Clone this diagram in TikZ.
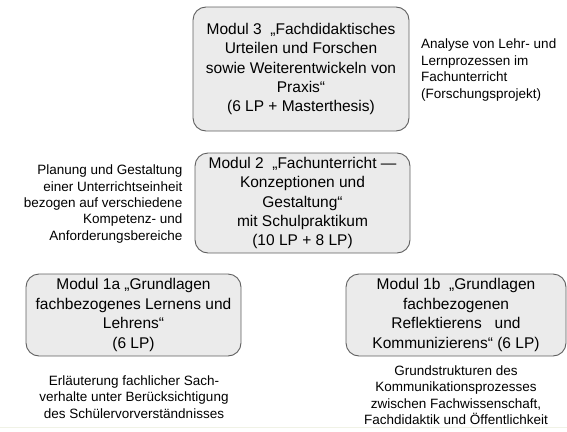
\documentclass[tikz,border=0pt]{standalone}
\usepackage{fontspec}
\setmainfont{Liberation Sans}
\definecolor{boxfill}{RGB}{235,235,235}
\definecolor{boxline}{RGB}{95,95,95}
\definecolor{faint}{RGB}{240,242,230}
\begin{document}
\begin{tikzpicture}[x=1pt,y=-1pt,
  modbox/.style={draw=boxline, fill=boxfill, line width=0.9pt, rounded corners=13pt,
    align=center, inner sep=0pt, font=\fontsize{15.5}{19.4}\selectfont},
  sidetext/.style={inner sep=0pt, font=\fontsize{13.5}{16.4}\selectfont}]
\useasboundingbox (0,0) rectangle (567,431);
\draw[faint, line width=1pt] (0,427) -- (567,427);
% boxes
\node[modbox, minimum width=216pt, minimum height=124pt] (m3) at (301,69)
  {Modul 3\ \ „Fachdidaktisches\\Urteilen und Forschen\\sowie Weiterentwickeln von\\Praxis“\\ (6 LP + Masterthesis)};
\node[modbox, minimum width=215pt, minimum height=100pt] (m2) at (302.5,203)
  {Modul 2\ \ „Fachunterricht —\\Konzeptionen und\\Gestaltung“\\mit Schulpraktikum\\(10 LP + 8 LP)};
\node[modbox, minimum width=215pt, minimum height=82pt] (m1a) at (133.5,315)
  {Modul 1a „Grundlagen\\fachbezogenes Lernens und\\Lehrens“\\(6 LP)};
\node[modbox, minimum width=220pt, minimum height=82pt] (m1b) at (456,315)
  {Modul 1b\ \ „Grundlagen\\fachbezogenen\\Reflektierens\ \ \ und\\Kommunizierens“ (6 LP)};
% side texts
\node[sidetext, align=left, anchor=west] (t3) at (421,70)
  {Analyse von Lehr- und\\Lernprozessen im\\Fachunterricht\\(Forschungsprojekt)};
\node[sidetext, align=right, anchor=east] (t2) at (182.5,204)
  {Planung und Gestaltung\\einer Unterrichtseinheit\\bezogen auf verschiedene\\Kompetenz- und\\Anforderungsbereiche};
\node[sidetext, align=center] (t1a) at (134,397)
  {Erläuterung fachlicher Sach-\\verhalte unter Berücksichtigung\\des Schülervorverständnisses};
\node[sidetext, align=center] (t1b) at (456,395)
  {Grundstrukturen des\\Kommunikationsprozesses\\zwischen Fachwissenschaft,\\Fachdidaktik und Öffentlichkeit};
\end{tikzpicture}
\end{document}
